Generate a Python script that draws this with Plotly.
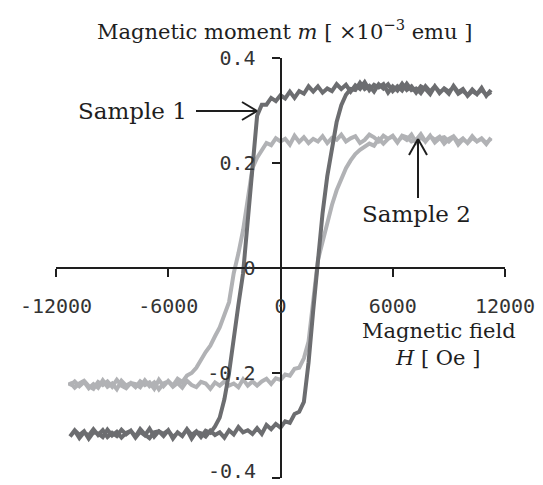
import plotly.graph_objects as go

# ---------------- data ----------------
# field sweep (Oe), descending from +11250 to -11250
h_down = [11250, 11000, 10750, 10500, 10250, 10000, 9750, 9500, 9250, 9000,
          8750, 8500, 8250, 8000, 7750, 7500, 7250, 7000, 6750, 6500,
          6250, 6000, 5750, 5500, 5250, 5000, 4750, 4500, 4250, 4000,
          3750, 3500, 3250, 3000, 2750, 2500, 2250, 2000, 1750, 1500,
          1250, 1000, 750, 500, 250, 0, -250, -500, -750, -1000,
          -1250, -1500, -1750, -2000, -2250, -2500, -2750, -3000, -3250, -3500,
          -3750, -4000, -4250, -4500, -4750, -5000, -5250, -5500, -5750, -6000,
          -6250, -6500, -6750, -7000, -7250, -7500, -7750, -8000, -8250, -8500,
          -8750, -9000, -9250, -9500, -9750, -10000, -10250, -10500, -10750, -11000,
          -11250]
h_up = list(reversed(h_down))

# Sample 1 (dark) magnetic moment, x10^-3 emu
m1_down = [0.339, 0.328, 0.343, 0.331, 0.337, 0.328, 0.341, 0.335, 0.347, 0.332,
           0.341, 0.335, 0.346, 0.331, 0.341, 0.346, 0.334, 0.346, 0.339, 0.351,
           0.338, 0.346, 0.334, 0.350, 0.344, 0.349, 0.339, 0.354, 0.341, 0.348,
           0.336, 0.349, 0.341, 0.350, 0.337, 0.342, 0.334, 0.346, 0.336, 0.346,
           0.332, 0.337, 0.324, 0.336, 0.323, 0.329, 0.318, 0.324, 0.311, 0.311,
           0.290, 0.190, 0.090, -0.010, -0.070, -0.140, -0.200, -0.250, -0.285, -0.302,
           -0.314, -0.310, -0.322, -0.311, -0.318, -0.307, -0.320, -0.313, -0.325, -0.309,
           -0.316, -0.311, -0.321, -0.306, -0.319, -0.312, -0.323, -0.310, -0.317, -0.308,
           -0.320, -0.314, -0.322, -0.309, -0.318, -0.307, -0.319, -0.313, -0.324, -0.310,
           -0.321]
m1_up = [-0.320, -0.309, -0.318, -0.311, -0.325, -0.313, -0.315, -0.322, -0.308, -0.319,
         -0.312, -0.323, -0.314, -0.310, -0.321, -0.307, -0.317, -0.324, -0.313, -0.311,
         -0.320, -0.309, -0.322, -0.314, -0.319, -0.308, -0.325, -0.312, -0.315, -0.321,
         -0.310, -0.318, -0.313, -0.323, -0.309, -0.317, -0.303, -0.313, -0.309, -0.316,
         -0.305, -0.316, -0.299, -0.307, -0.297, -0.304, -0.292, -0.295, -0.278, -0.274,
         -0.255, -0.180, -0.080, 0.015, 0.105, 0.175, 0.232, 0.278, 0.310, 0.330,
         0.341, 0.339, 0.353, 0.341, 0.347, 0.336, 0.350, 0.342, 0.350, 0.337,
         0.346, 0.338, 0.351, 0.339, 0.342, 0.333, 0.346, 0.336, 0.346, 0.333,
         0.342, 0.336, 0.345, 0.332, 0.338, 0.329, 0.340, 0.331, 0.340, 0.329,
         0.335]

# Sample 2 (light)
m2_down = [0.248, 0.236, 0.246, 0.241, 0.251, 0.239, 0.245, 0.235, 0.250, 0.241,
           0.249, 0.247, 0.239, 0.252, 0.241, 0.255, 0.244, 0.241, 0.249, 0.252,
           0.239, 0.251, 0.246, 0.252, 0.241, 0.249, 0.254, 0.244, 0.238, 0.251,
           0.247, 0.241, 0.254, 0.244, 0.248, 0.238, 0.251, 0.241, 0.246, 0.238,
           0.249, 0.240, 0.252, 0.235, 0.246, 0.241, 0.247, 0.234, 0.238, 0.225,
           0.210, 0.190, 0.130, 0.072, 0.028, -0.010, -0.065, -0.092, -0.113, -0.130,
           -0.148, -0.160, -0.176, -0.190, -0.200, -0.205, -0.217, -0.211, -0.224, -0.215,
           -0.225, -0.213, -0.230, -0.218, -0.223, -0.216, -0.227, -0.219, -0.224, -0.215,
           -0.231, -0.220, -0.226, -0.214, -0.228, -0.221, -0.229, -0.217, -0.225, -0.216,
           -0.224]
m2_up = [-0.218, -0.228, -0.220, -0.215, -0.225, -0.230, -0.217, -0.223, -0.216, -0.226,
         -0.213, -0.224, -0.229, -0.219, -0.221, -0.227, -0.214, -0.225, -0.218, -0.231,
         -0.220, -0.216, -0.226, -0.219, -0.228, -0.215, -0.223, -0.227, -0.217, -0.220,
         -0.230, -0.218, -0.224, -0.216, -0.224, -0.220, -0.227, -0.212, -0.224, -0.216,
         -0.224, -0.216, -0.211, -0.221, -0.210, -0.213, -0.203, -0.205, -0.192, -0.190,
         -0.172, -0.140, -0.060, 0.015, 0.050, 0.088, 0.120, 0.148, 0.170, 0.190,
         0.205, 0.217, 0.225, 0.230, 0.237, 0.233, 0.246, 0.237, 0.246, 0.252,
         0.240, 0.250, 0.244, 0.254, 0.239, 0.249, 0.241, 0.251, 0.244, 0.250,
         0.237, 0.246, 0.251, 0.240, 0.247, 0.238, 0.248, 0.241, 0.247, 0.238,
         0.246]

x_tickvals = [-12000, -6000, 0, 6000, 12000]
x_ticktext = ["-12000", "-6000", "0", "6000", "12000"]
y_tickvals = [-0.4, -0.2, 0, 0.2, 0.4]
y_ticktext = ["-0.4", "-0.2", "0", "0.2", "0.4"]

# ---------------- layout constants (reference screen pixels) ----------------
PAGE_OFF = 8                      # default body margin of the html page
W, H = 543 - PAGE_OFF, 485 - PAGE_OFF
L, R, T, B = 56, 505, 58, 478     # plot area edges on screen
X0, X1 = -12000, 12000
Y0, Y1 = -0.4, 0.4

def xp(px):
    return (px - L) / (R - L)

def yp(py):
    return (B - py) / (B - T)

DARK = "#6c6d70"
LIGHT = "#b1b2b5"
INK = "#1e1e1e"
TICK_INK = "#333333"
SERIF = "DejaVu Serif"
MONO = "DejaVu Sans Mono"

fig = go.Figure()
fig.add_trace(go.Scatter(x=h_down + h_up, y=m2_down + m2_up, mode="lines",
                         line=dict(color=LIGHT, width=4), name="Sample 2",
                         showlegend=False))
fig.add_trace(go.Scatter(x=h_down + h_up, y=m1_down + m1_up, mode="lines",
                         line=dict(color=DARK, width=4), name="Sample 1",
                         showlegend=False))

def label(px, py, text, size, xanchor="center"):
    return dict(x=xp(px), y=yp(py), xref="paper", yref="paper", showarrow=False,
                xanchor=xanchor, yanchor="middle", text=text,
                font=dict(family=SERIF, size=size, color=INK))

ann = [
    label(284, 30, "Magnetic moment <i>m</i> [ \u00d710<sup>\u22123</sup> emu ]", 21),
    label(189, 111, "Sample 1", 23, xanchor="right"),
    label(416, 214, "Sample 2", 23),
    label(439, 331, "Magnetic field", 21),
    label(437, 358, "<i>H</i> [ Oe ]", 21),
]

# the lowest y tick label sits at the very bottom edge of the page: draw it
# as a label whose box ends at the page edge so it is not clipped
y_labels_axis = [t if v != Y0 else "" for v, t in zip(y_tickvals, y_ticktext)]
ann.append(dict(x=xp(257), y=yp(485 - 1), xref="paper", yref="paper",
                showarrow=False, xanchor="right", yanchor="bottom",
                borderpad=0, text=y_ticktext[y_tickvals.index(Y0)],
                font=dict(family=MONO, size=20, color=TICK_INK)))

shapes = []
def seg(p, q):
    shapes.append(dict(type="line", xref="paper", yref="paper",
                       x0=xp(p[0]), y0=yp(p[1]), x1=xp(q[0]), y1=yp(q[1]),
                       line=dict(color=INK, width=2)))
# arrow to Sample 1
seg((196, 111), (257, 111)); seg((257, 111), (242, 102)); seg((257, 111), (242, 120))
# arrow to Sample 2
seg((418, 198), (418, 139)); seg((418, 139), (409, 155)); seg((418, 139), (427, 155))

axis_common = dict(anchor="free", position=0.5, showgrid=False, zeroline=False,
                   showline=True, linecolor=INK, linewidth=2, ticks="outside",
                   ticklen=8, tickwidth=2, tickcolor=INK, ticklabelstandoff=12,
                   ticklabeloverflow="allow",
                   tickfont=dict(family=MONO, size=20, color=TICK_INK),
                   automargin=False)

fig.update_layout(
    width=W, height=H,
    margin=dict(l=L - PAGE_OFF, r=W - (R - PAGE_OFF), t=T - PAGE_OFF,
                b=H - (B - PAGE_OFF), pad=0),
    paper_bgcolor="white", plot_bgcolor="white",
    annotations=ann, shapes=shapes,
    xaxis=dict(range=[X0, X1], tickvals=x_tickvals, ticktext=x_ticktext,
               **axis_common),
    yaxis=dict(range=[Y0, Y1], tickvals=y_tickvals, ticktext=y_labels_axis,
               **axis_common),
)

fig.write_html("out.html")
